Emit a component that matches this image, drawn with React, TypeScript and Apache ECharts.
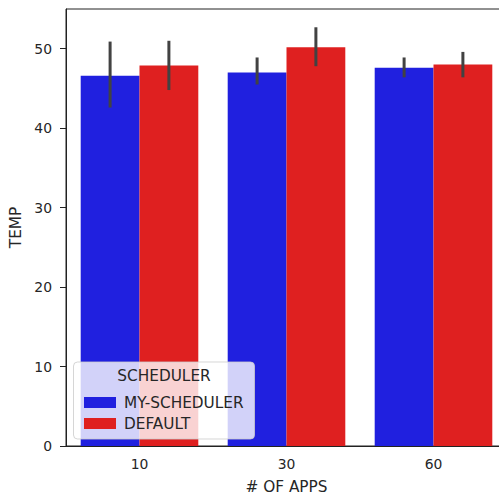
import React, { useEffect, useRef } from "react";
import * as echarts from "echarts";

const categories = ["10", "30", "60"];
const seriesNames = ["MY-SCHEDULER", "DEFAULT"];
const mySchedulerValues = [46.6, 47.0, 47.6];
const defaultValues = [47.9, 50.2, 48.0];
const mySchedulerLow = [42.6, 45.5, 46.4];
const mySchedulerHigh = [50.9, 48.9, 48.9];
const defaultLow = [44.8, 47.8, 46.4];
const defaultHigh = [51.0, 52.7, 49.6];
const yTicks = [0, 10, 20, 30, 40, 50];

const FONT = "DejaVu Sans";
const TEXT = "#262626";

export default function App() {
  const ref = useRef<HTMLDivElement>(null);
  useEffect(() => {
    if (!ref.current) return;
    const chart = echarts.init(ref.current, undefined, { renderer: "svg" });
    const errData: any[] = [];
    categories.forEach((_, i) => {
      errData.push([i, mySchedulerLow[i], mySchedulerHigh[i], -1]);
      errData.push([i, defaultLow[i], defaultHigh[i], 1]);
    });
    chart.setOption({
      animation: false,
      textStyle: { fontFamily: FONT, color: TEXT },
      grid: {
        left: 66,
        top: 9,
        width: 441,
        height: 437,
        outerBoundsMode: "none",
        containLabel: false,
        show: true,
        borderColor: "#222",
        borderWidth: 1,
        backgroundColor: "transparent",
      },
      xAxis: {
        type: "category",
        data: categories,
        name: "# OF APPS",
        nameLocation: "middle",
        nameGap: 33,
        nameTextStyle: { fontFamily: FONT, fontSize: 15.3, color: TEXT },
        axisLine: { lineStyle: { color: "#222", width: 1 } },
        axisTick: { alignWithLabel: true, length: 6, lineStyle: { color: "#222" } },
        axisLabel: { fontFamily: FONT, fontSize: 13.9, color: TEXT, margin: 11 },
        splitLine: { show: false },
      },
      yAxis: {
        type: "value",
        min: 0,
        max: 55,
        interval: 10,
        name: "TEMP",
        nameLocation: "middle",
        nameGap: 41,
        nameRotate: 90,
        nameTextStyle: { fontFamily: FONT, fontSize: 15.3, color: TEXT },
        axisLine: { show: true, lineStyle: { color: "#222", width: 1 } },
        axisTick: { show: true, length: 6, lineStyle: { color: "#222" }, customValues: yTicks },
        axisLabel: {
          fontFamily: FONT,
          fontSize: 13.9,
          color: TEXT,
          margin: 14,
          customValues: yTicks,
        },
        splitLine: { show: false },
      },
      legend: {
        orient: "vertical",
        left: 79,
        top: 390,
        z: 20,
        itemWidth: 32,
        itemHeight: 11,
        itemGap: 6,
        icon: "rect",
        data: seriesNames,
        textStyle: {
          fontFamily: FONT,
          fontSize: 15.3,
          color: TEXT,
          padding: [0, 0, 0, 3],
        },
      },
      graphic: [
        {
          type: "rect",
          z: 15,
          shape: { x: 73.5, y: 362, width: 181, height: 77, r: 4 },
          style: { fill: "rgba(255,255,255,0.8)", stroke: "rgba(204,204,204,0.8)", lineWidth: 1 },
        },
        {
          type: "text",
          z: 16,
          x: 164,
          y: 375.5,
          style: {
            text: "SCHEDULER",
            fontFamily: FONT,
            fontSize: 15.3,
            fill: TEXT,
            align: "center",
            verticalAlign: "middle",
          },
        },
      ],
      series: [
        {
          name: seriesNames[0],
          type: "bar",
          data: mySchedulerValues,
          barGap: "0%",
          barCategoryGap: "20%",
          itemStyle: { color: "#2020df" },
          z: 2,
        },
        {
          name: seriesNames[1],
          type: "bar",
          data: defaultValues,
          barGap: "0%",
          barCategoryGap: "20%",
          itemStyle: { color: "#df2020" },
          z: 2,
        },
        {
          type: "custom",
          data: errData,
          z: 5,
          silent: true,
          renderItem: (params: any, api: any) => {
            const idx = api.value(0);
            const lo = api.value(1);
            const hi = api.value(2);
            const side = api.value(3);
            const band = api.size([1, 0])[0];
            const pLo = api.coord([idx, lo]);
            const pHi = api.coord([idx, hi]);
            const x = pLo[0] + side * band * 0.2;
            return {
              type: "line",
              shape: { x1: x, y1: pLo[1], x2: x, y2: pHi[1] },
              style: { stroke: "#424242", lineWidth: 3 },
            };
          },
        },
      ],
    });
    return () => chart.dispose();
  }, []);
  return <div ref={ref} style={{ width: 499, height: 498, position: "absolute", left: 0, top: 0 }} />;
}
